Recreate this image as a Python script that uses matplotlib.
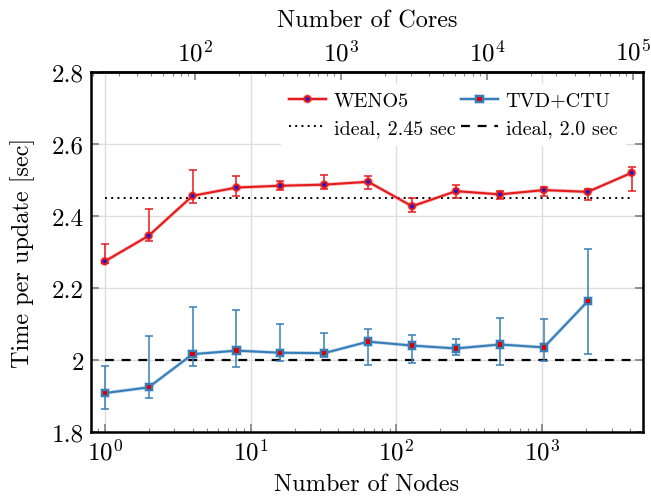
import matplotlib
matplotlib.use("Agg")
import matplotlib.pyplot as plt
import matplotlib.patheffects as pe
from matplotlib.ticker import LogLocator, FuncFormatter, MultipleLocator, NullFormatter, FixedLocator
import numpy as np

plt.rcParams['font.family'] = ['cmr10', 'DejaVu Serif']
plt.rcParams['mathtext.fontset'] = 'cm'
plt.rcParams['axes.formatter.use_mathtext'] = True

# ---- data ----
nodes = [1, 2, 4, 8, 16, 32, 64, 128, 256, 512, 1024, 2048, 4096]
weno5 = [2.274, 2.345, 2.456, 2.479, 2.484, 2.487, 2.495, 2.427, 2.469, 2.460, 2.472, 2.467, 2.520]
weno5_hi = [2.321, 2.419, 2.528, 2.510, 2.496, 2.513, 2.512, 2.451, 2.487, 2.470, 2.481, 2.476, 2.535]
weno5_lo = [2.270, 2.330, 2.435, 2.455, 2.472, 2.474, 2.475, 2.410, 2.451, 2.447, 2.456, 2.444, 2.469]

tvd_nodes = [1, 2, 4, 8, 16, 32, 64, 128, 256, 512, 1024, 2048]
tvd = [1.908, 1.924, 2.016, 2.026, 2.020, 2.019, 2.051, 2.040, 2.032, 2.043, 2.035, 2.163]
tvd_hi = [1.982, 2.066, 2.146, 2.139, 2.099, 2.074, 2.085, 2.068, 2.057, 2.118, 2.113, 2.307]
tvd_lo = [1.863, 1.894, 1.982, 1.981, 1.996, 2.007, 1.985, 1.992, 2.013, 1.985, 1.996, 2.016]

core_ticks = [1e2, 1e3, 1e4, 1e5]
ideal_weno = 2.45
ideal_tvd = 2.0
cores_per_node = 24

red = '#e41a1c'
blue = '#377eb8'

fig = plt.figure(figsize=(6.51, 5.02), dpi=100)
ax = fig.add_axes([0.1398, 0.1375, 0.8479, 0.7171])

glow_r = [pe.Stroke(linewidth=2.6, foreground=red, alpha=0.3), pe.Normal()]
glow_b = [pe.Stroke(linewidth=2.6, foreground=blue, alpha=0.3), pe.Normal()]

w = np.array(weno5)
ax.errorbar(nodes, weno5, yerr=[w - np.array(weno5_lo), np.array(weno5_hi) - w],
            fmt='none', ecolor=red, elinewidth=1.1, capsize=3, capthick=1.1, zorder=3)
l1, = ax.plot(nodes, weno5, color=red, lw=1.5, marker='o', markersize=4.2,
              markerfacecolor='#1a1acc', markeredgecolor=red, markeredgewidth=1.4,
              path_effects=glow_r, zorder=4, label='WENO5')
t = np.array(tvd)
ax.errorbar(tvd_nodes, tvd, yerr=[t - np.array(tvd_lo), np.array(tvd_hi) - t],
            fmt='none', ecolor=blue, elinewidth=1.1, capsize=3, capthick=1.1, zorder=3)
l2, = ax.plot(tvd_nodes, tvd, color=blue, lw=1.5, marker='s', markersize=4.5,
              markerfacecolor='#dd0000', markeredgecolor=blue, markeredgewidth=1.5,
              path_effects=glow_b, zorder=4, label='TVD+CTU')

l3, = ax.plot([nodes[0], nodes[-1]], [ideal_weno, ideal_weno], color='black', lw=1.4,
              linestyle=(0, (1, 2.2)), zorder=2, label='ideal, 2.45 sec')
l4, = ax.plot([nodes[0], nodes[-1]], [ideal_tvd, ideal_tvd], color='black', lw=1.6,
              linestyle=(0, (4, 3.5)), zorder=2, label='ideal, 2.0 sec')

ax.set_xscale('log')
ax.set_xlim(10 ** -0.094, 10 ** 3.69)
ax.set_ylim(1.8, 2.8)
ax.yaxis.set_major_locator(MultipleLocator(0.2))
ax.yaxis.set_major_formatter(FuncFormatter(lambda v, p: '%g' % round(v, 2)))
ax.xaxis.set_major_locator(LogLocator(base=10, numticks=10))
ax.xaxis.set_minor_locator(LogLocator(base=10, subs=np.arange(2, 10), numticks=20))
ax.xaxis.set_minor_formatter(NullFormatter())

ax.grid(True, which='major', color='#dddddd', lw=1.0, zorder=0)
ax.set_axisbelow(True)

for s in ax.spines.values():
    s.set_linewidth(1.8)
    s.set_color('black')

ax.tick_params(axis='both', which='major', direction='in', length=6, width=1.3,
               color='#888888', labelsize=18, right=True, top=False, pad=5)
ax.tick_params(axis='x', which='minor', direction='in', length=3, width=0.8,
               color='#888888', top=False)

ax.set_xlabel('Number of Nodes', fontsize=17.5, labelpad=6)
ax.set_ylabel('Time per update [sec]', fontsize=17.5, labelpad=12)

sec = ax.secondary_xaxis('top', functions=(lambda x: x * cores_per_node,
                                           lambda x: x / cores_per_node))
sec.set_xscale('log')
sec.xaxis.set_major_locator(FixedLocator(core_ticks))
sec.xaxis.set_minor_locator(LogLocator(base=10, subs=np.arange(2, 10), numticks=20))
sec.xaxis.set_minor_formatter(NullFormatter())
sec.tick_params(axis='x', which='major', direction='in', length=6, width=1.3,
                color='#888888', labelsize=18, pad=5)
sec.tick_params(axis='x', which='minor', direction='in', length=3, width=0.8,
                color='#888888')
sec.spines['top'].set_linewidth(1.8)
sec.set_xlabel('Number of Cores', fontsize=17.5, labelpad=9)

leg = ax.legend(handles=[l1, l3, l2, l4], ncol=2, loc='upper right', fontsize=14.5,
                bbox_to_anchor=(0.968, 0.967),
                frameon=True, fancybox=False, edgecolor='white', framealpha=1,
                handlelength=1.8, handletextpad=0.4, columnspacing=0.3,
                labelspacing=0.45, borderaxespad=0.0, borderpad=0.4)

fig.savefig('out.png', dpi=100)
